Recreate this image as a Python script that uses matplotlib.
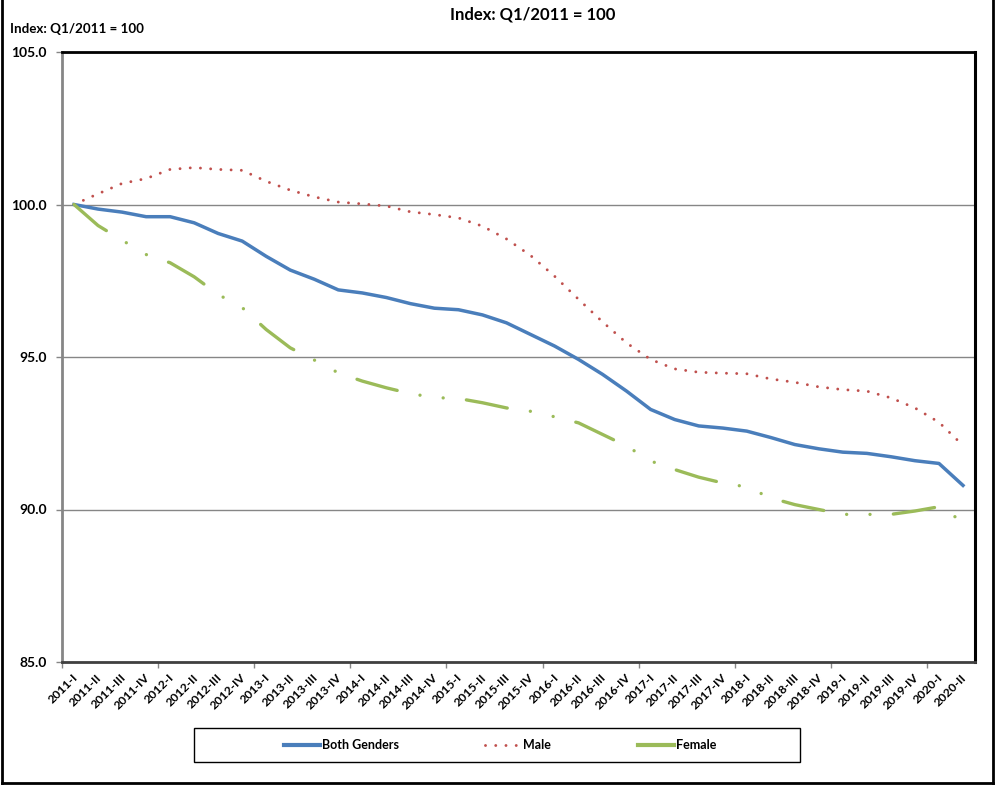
import numpy as np
import matplotlib
matplotlib.use("Agg")
import matplotlib.pyplot as plt
import matplotlib.transforms as mtransforms
from matplotlib.patches import Rectangle
from matplotlib.lines import Line2D

plt.rcParams['font.family'] = ['Lato', 'DejaVu Sans']
plt.rcParams['font.weight'] = 'bold'

quarters = []
for yr in range(2011, 2021):
    for q in ['I', 'II', 'III', 'IV']:
        quarters.append(f"{yr}-{q}")
quarters = quarters[:38]

both = [100.0, 99.85, 99.75, 99.6, 99.6, 99.4, 99.05, 98.8, 98.3, 97.85,
        97.55, 97.2, 97.1, 96.95, 96.75, 96.6, 96.55, 96.38, 96.12, 95.74,
        95.36, 94.92, 94.43, 93.88, 93.28, 92.95, 92.74, 92.67, 92.57, 92.36,
        92.13, 91.99, 91.88, 91.84, 91.73, 91.6, 91.51, 90.79]
male = [100.0, 100.35, 100.69, 100.85, 101.15, 101.21, 101.15, 101.12, 100.76, 100.47,
        100.25, 100.08, 100.02, 99.95, 99.76, 99.67, 99.56, 99.29, 98.87, 98.33,
        97.65, 96.89, 96.15, 95.46, 94.92, 94.61, 94.5, 94.47, 94.45, 94.28,
        94.17, 94.02, 93.93, 93.88, 93.66, 93.33, 92.86, 92.1]
female = [100.0, 99.31, 98.83, 98.36, 98.09, 97.63, 97.05, 96.62, 95.9, 95.3,
          94.9, 94.48, 94.21, 93.99, 93.8, 93.67, 93.64, 93.5, 93.33, 93.22,
          93.04, 92.84, 92.46, 92.08, 91.59, 91.31, 91.06, 90.87, 90.74, 90.38,
          90.16, 90.0, 89.84, 89.84, 89.84, 89.95, 90.09, 89.6]

blue = '#4A7EBB'
red = '#C0504D'
green = '#9BBB59'

W, H = 997, 786
fig = plt.figure(figsize=(W / 100, H / 100), dpi=100)
ax = fig.add_axes([62 / W, 1 - 662 / H, (975 - 62) / W, (662 - 52) / H])

x = np.arange(len(quarters))
ax.plot(x, both, color=blue, lw=2.5, solid_joinstyle='round', zorder=3)
ax.plot(x, male, color=red, lw=2.1, dashes=[0.01, 3.5], dash_capstyle='round', zorder=3)
ax.plot(x, female, color=green, lw=2.4, dashes=[12.5, 7, 0.01, 7, 0.01, 7],
        dash_capstyle='round', zorder=3)

ax.set_xlim(-0.5, len(quarters) - 0.5)
ax.set_ylim(85, 105)
ax.set_yticks([85, 90, 95, 100, 105])
ax.set_yticklabels([f"{v:.1f}" for v in [85, 90, 95, 100, 105]], fontsize=10, fontweight='bold')
ax.yaxis.grid(True, color='#868686', lw=1.0)
ax.set_axisbelow(True)

# ticks between categories every 4 quarters, labels on every quarter
ax.set_xticks(np.arange(-0.5, len(quarters) - 1, 4))
ax.set_xticklabels([])
ax.tick_params(axis='x', which='major', length=4, color='#868686', width=1)
ax.tick_params(axis='y', length=4, color='#868686', width=1, pad=7)

shift = mtransforms.ScaledTranslation(-2 / 100, -10 / 100, fig.dpi_scale_trans)
for i, q in enumerate(quarters):
    ax.text(i, 0, q, transform=ax.get_xaxis_transform() + shift,
            rotation=45, ha='right', va='top', rotation_mode='anchor',
            fontsize=8.8, fontweight='bold')

ax.spines['top'].set_color('black')
ax.spines['top'].set_linewidth(2)
ax.spines['right'].set_color('black')
ax.spines['right'].set_linewidth(2.2)
ax.spines['left'].set_color('#868686')
ax.spines['left'].set_linewidth(2)
ax.spines['bottom'].set_color('#404040')
ax.spines['bottom'].set_linewidth(2)

fig.text(533 / W, 1 - 15 / H, "Index: Q1/2011 = 100", ha='center', va='center',
         fontsize=12, fontweight='bold')
fig.text(10 / W, 1 - 29 / H, "Index: Q1/2011 = 100", ha='left', va='center',
         fontsize=9.6, fontweight='bold')

# legend box
fig.patches.append(Rectangle((194 / W, 1 - 762 / H), (800 - 194) / W, 34 / H,
                             transform=fig.transFigure, fill=False, ec='black', lw=1))
handles = [Line2D([], [], color=blue, lw=3),
           Line2D([], [], color=red, lw=2.1, dashes=[0.01, 3.5], dash_capstyle='round'),
           Line2D([], [], color=green, lw=3)]
fig.legend(handles, ['Both Genders', 'Male', 'Female'], loc='center',
           bbox_to_anchor=(500 / W, 1 - 745 / H), ncol=3, frameon=False,
           fontsize=9, handlelength=2.9, handletextpad=0.15, columnspacing=6.9)

# outer border
for xs, ys in [([1.5, 1.5], [0, 783]), ([993, 993], [0, 783]), ([1.5, 993], [783, 783])]:
    fig.add_artist(Line2D([v / W for v in xs], [1 - v / H for v in ys],
                          color='black', lw=2, transform=fig.transFigure))

fig.savefig('out.png', dpi=100)
